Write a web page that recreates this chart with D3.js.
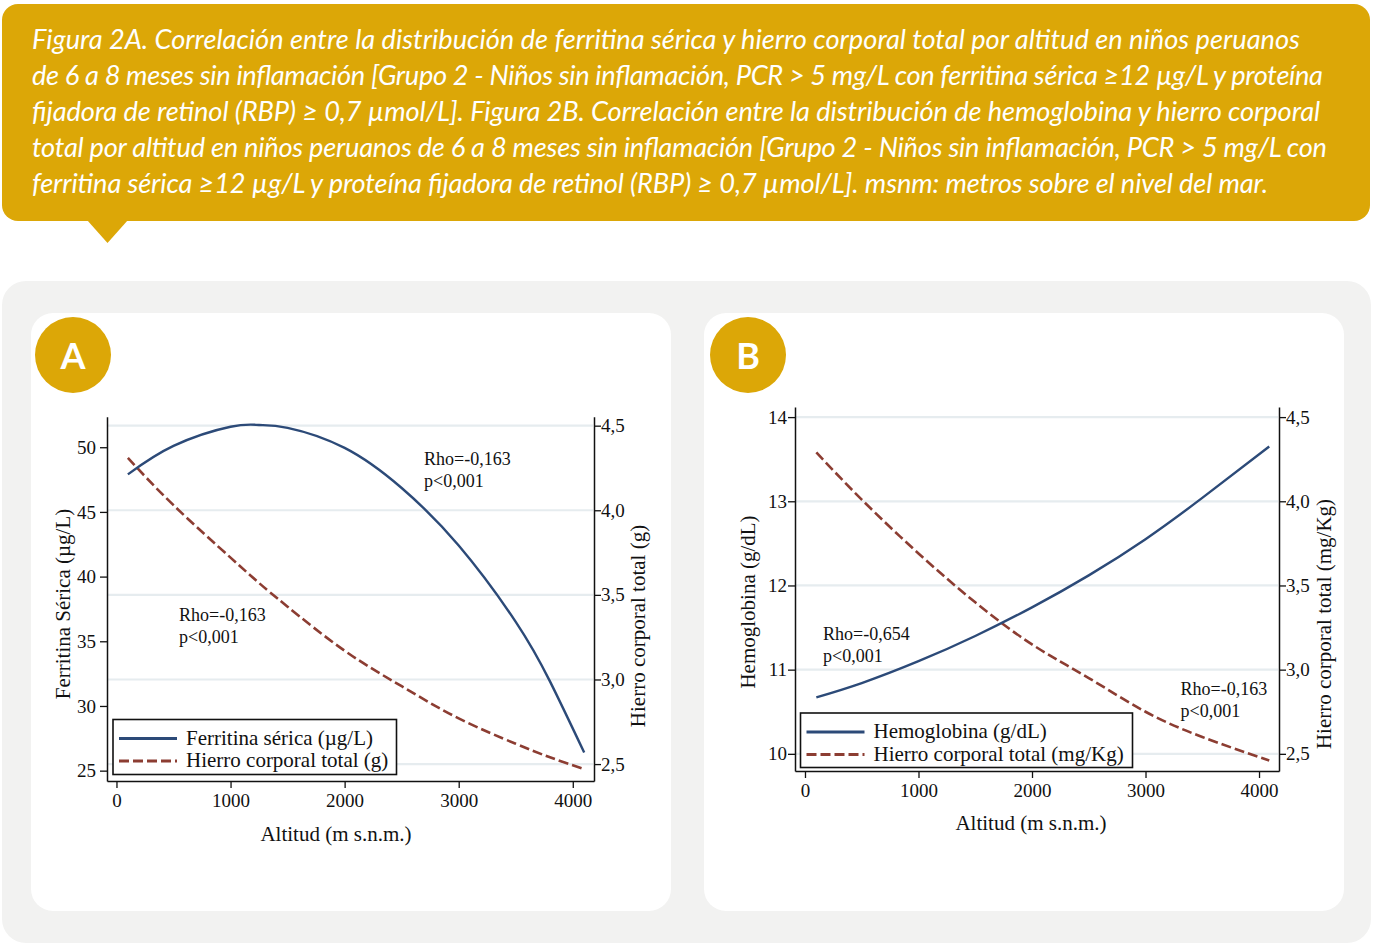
<!DOCTYPE html>
<html><head><meta charset="utf-8">
<script src="https://cdn.jsdelivr.net/npm/d3@7"></script>
<style>
html,body{margin:0;padding:0;background:#fff;}
svg{display:block;}
</style></head>
<body>
<svg id="c" width="1380" height="952"></svg>
<script>
// ---------------- DATA ----------------
const captionLines = [
  "Figura 2A. Correlación entre la distribución de ferritina sérica y hierro corporal total por altitud en niños peruanos",
  "de 6 a 8 meses sin inflamación [Grupo 2 - Niños sin inflamación, PCR > 5 mg/L con ferritina sérica ≥12 µg/L y proteína",
  "fijadora de retinol (RBP) ≥ 0,7 µmol/L]. Figura 2B. Correlación entre la distribución de hemoglobina y hierro corporal",
  "total por altitud en niños peruanos de 6 a 8 meses sin inflamación [Grupo 2 - Niños sin inflamación, PCR > 5 mg/L con",
  "ferritina sérica ≥12 µg/L y proteína fijadora de retinol (RBP) ≥ 0,7 µmol/L]. msnm: metros sobre el nivel del mar."
];
const xTicks = [0, 1000, 2000, 3000, 4000];
// Panel A
const altitudA = [100, 500, 1000, 1250, 1500, 2000, 2500, 3000, 3500, 3800, 4100];
const ferritinaA = [47.9, 50.1, 51.58, 51.72, 51.5, 49.95, 46.85, 42.4, 36.5, 31.9, 26.4];
const hierroA = [4.31, 4.03, 3.72, 3.57, 3.43, 3.17, 2.96, 2.77, 2.62, 2.54, 2.47];
const leftTicksA = [25, 30, 35, 40, 45, 50];
const rightTicksA = [2.5, 3.0, 3.5, 4.0, 4.5];
// Panel B
const altitudB = [100, 500, 1000, 1500, 2000, 2500, 3000, 3500, 4090];
const hemoglobinaB = [10.67, 10.84, 11.10, 11.40, 11.74, 12.12, 12.55, 13.04, 13.65];
const hierroB = [4.29, 4.01, 3.69, 3.40, 3.15, 2.95, 2.75, 2.60, 2.46];
const leftTicksB = [10, 11, 12, 13, 14];
const rightTicksB = [2.5, 3.0, 3.5, 4.0, 4.5];

// ---------------- STYLE ----------------
const GOLD = "#dca707";
const NAVY = "#2c4a78";
const BROWN = "#8c3d32";
const GRID = "#e6ecef";
const SERIF = "'Liberation Serif', 'Times New Roman', serif";
const svg = d3.select("#c");
const comma = v => d3.format(".1f")(v).replace(".", ",");
const captionEnds = [1300, 1323, 1320, 1327, 1268];

// ---------------- HEADER ----------------
svg.append("rect").attr("x", 2).attr("y", 4).attr("width", 1368).attr("height", 217)
  .attr("rx", 16).attr("fill", GOLD);
svg.append("path").attr("d", "M87,220 L128,220 L107.5,243 Z").attr("fill", GOLD);
const cap = svg.append("g").attr("font-family", "Lato, 'Open Sans', sans-serif")
  .attr("font-style", "italic").attr("fill", "#fff");
const capTexts = cap.selectAll("text").data(captionLines).join("text")
  .attr("x", 32).attr("y", (d, i) => 49 + i * 36)
  .attr("font-size", 24).text(d => d);
const w0 = capTexts.nodes()[0].getComputedTextLength();
const fs = 24 * 1268 / w0;
capTexts.attr("font-size", fs)
  .attr("textLength", (d, i) => captionEnds[i] - 32)
  .attr("lengthAdjust", "spacing");

// ---------------- PANELS BACKGROUND ----------------
svg.append("rect").attr("x", 2).attr("y", 281).attr("width", 1369).attr("height", 662)
  .attr("rx", 24).attr("fill", "#f2f2f1");
svg.append("rect").attr("x", 31).attr("y", 313).attr("width", 640).attr("height", 598)
  .attr("rx", 22).attr("fill", "#fff");
svg.append("rect").attr("x", 704).attr("y", 313).attr("width", 640).attr("height", 598)
  .attr("rx", 22).attr("fill", "#fff");
[[73, "A"], [748, "B"]].forEach(([cx, lab]) => {
  svg.append("circle").attr("cx", cx).attr("cy", 355).attr("r", 38).attr("fill", GOLD);
  svg.append("text").attr("x", cx).attr("y", 369).attr("text-anchor", "middle")
    .attr("font-family", "Lato, sans-serif").attr("font-weight", 700)
    .attr("font-size", 36).attr("fill", "#fff").text(lab);
});

// ---------------- PANEL DRAW FUNCTION ----------------
function panel(cfg) {
  const g = svg.append("g").attr("font-family", SERIF);
  const x = d3.scaleLinear().domain(cfg.xDomain).range([cfg.left, cfg.right]);
  const yL = d3.scaleLinear().domain(cfg.yLDomain).range([cfg.bottom, cfg.top]);
  const yR = d3.scaleLinear().domain(cfg.yRDomain).range([cfg.bottom, cfg.top]);
  // grid
  g.append("g").selectAll("line").data(cfg.rightTicks).join("line")
    .attr("x1", cfg.left + 1).attr("x2", cfg.right - 1)
    .attr("y1", d => yR(d)).attr("y2", d => yR(d))
    .attr("stroke", GRID).attr("stroke-width", 2.2);
  // lines
  const lineL = d3.line().x((d, i) => x(cfg.alt[i])).y(d => yL(d)).curve(d3.curveNatural);
  const lineR = d3.line().x((d, i) => x(cfg.alt[i])).y(d => yR(d)).curve(d3.curveNatural);
  g.append("path").attr("d", lineR(cfg.rightVals)).attr("fill", "none")
    .attr("stroke", BROWN).attr("stroke-width", 2.6).attr("stroke-dasharray", "10,4");
  g.append("path").attr("d", lineL(cfg.leftVals)).attr("fill", "none")
    .attr("stroke", NAVY).attr("stroke-width", 2.4);
  // axes
  const styleAxis = sel => {
    sel.select(".domain").attr("stroke", "#111").attr("stroke-width", 1.5);
    sel.selectAll(".tick line").attr("stroke", "#111").attr("stroke-width", 1.3);
    sel.selectAll(".tick text").attr("font-family", SERIF).attr("font-size", 19).attr("fill", "#111");
  };
  g.append("g").attr("transform", `translate(0,${cfg.bottom})`)
    .call(d3.axisBottom(x).tickValues(xTicks).tickSize(7).tickPadding(6).tickSizeOuter(0).tickFormat(d3.format("d")))
    .call(styleAxis);
  g.append("g").attr("transform", `translate(${cfg.left},0)`)
    .call(d3.axisLeft(yL).tickValues(cfg.leftTicks).tickSize(7).tickPadding(cfg.lPad).tickSizeOuter(0).tickFormat(d3.format("d")))
    .call(styleAxis);
  g.append("g").attr("transform", `translate(${cfg.right},0)`)
    .call(d3.axisRight(yR).tickValues(cfg.rightTicks).tickSize(7).tickPadding(0).tickSizeOuter(0).tickFormat(comma))
    .call(styleAxis);
  // axis titles
  g.append("text").attr("x", cfg.xTitleX).attr("y", cfg.xTitleY)
    .attr("text-anchor", "middle").attr("font-size", 21).attr("fill", "#111").text("Altitud (m s.n.m.)");
  g.append("text").attr("transform", `translate(${cfg.lTitleX},${cfg.lTitleY}) rotate(-90)`)
    .attr("text-anchor", "middle").attr("font-size", 21).attr("fill", "#111").text(cfg.lTitle);
  g.append("text").attr("transform", `translate(${cfg.rTitleX},${cfg.rTitleY}) rotate(-90)`)
    .attr("text-anchor", "middle").attr("font-size", 21).attr("fill", "#111").text(cfg.rTitle);
  // annotations
  cfg.notes.forEach(n => {
    g.append("text").attr("x", n.x).attr("y", n.y).attr("font-size", 18).attr("fill", "#111").text(n.rho);
    g.append("text").attr("x", n.x).attr("y", n.y + 22).attr("font-size", 18).attr("fill", "#111").text("p<0,001");
  });
  // legend
  const L = cfg.legend;
  g.append("rect").attr("x", L.x).attr("y", L.y).attr("width", L.w).attr("height", L.h)
    .attr("fill", "#fff").attr("stroke", "#111").attr("stroke-width", 1.6);
  g.append("line").attr("x1", L.x + 6).attr("x2", L.x + 64).attr("y1", L.y + 19).attr("y2", L.y + 19)
    .attr("stroke", NAVY).attr("stroke-width", 3);
  g.append("line").attr("x1", L.x + 6).attr("x2", L.x + 64).attr("y1", L.y + 41.5).attr("y2", L.y + 41.5)
    .attr("stroke", BROWN).attr("stroke-width", 3).attr("stroke-dasharray", "10,4");
  g.append("text").attr("x", L.x + 73).attr("y", L.y + 25).attr("font-size", 21).attr("fill", "#111").text(L.t1);
  g.append("text").attr("x", L.x + 73).attr("y", L.y + 47.5).attr("font-size", 21).attr("fill", "#111").text(L.t2);
}

panel({
  left: 107, right: 594, top: 416.7, bottom: 781,
  xDomain: [-83, 4186], yLDomain: [24.2, 52.36], yRDomain: [2.4, 4.553],
  alt: altitudA, leftVals: ferritinaA, rightVals: hierroA,
  leftTicks: leftTicksA, rightTicks: rightTicksA, lPad: 4,
  xTitleX: 336, xTitleY: 841, lTitleX: 70, lTitleY: 604, rTitleX: 645, rTitleY: 626,
  lTitle: "Ferritina Sérica (µg/L)", rTitle: "Hierro corporal total (g)",
  notes: [{x: 424, y: 465, rho: "Rho=-0,163"}, {x: 179, y: 620.5, rho: "Rho=-0,163"}],
  legend: {x: 113, y: 719.5, w: 283.5, h: 55, t1: "Ferritina sérica (µg/L)", t2: "Hierro corporal total (g)"}
});

panel({
  left: 795, right: 1279, top: 407, bottom: 771,
  xDomain: [-88, 4176], yLDomain: [9.796, 14.12], yRDomain: [2.398, 4.56],
  alt: altitudB, leftVals: hemoglobinaB, rightVals: hierroB,
  leftTicks: leftTicksB, rightTicks: rightTicksB, lPad: 1,
  xTitleX: 1031, xTitleY: 830, lTitleX: 755, lTitleY: 602, rTitleX: 1331, rTitleY: 624,
  lTitle: "Hemoglobina (g/dL)", rTitle: "Hierro corporal total (mg/Kg)",
  notes: [{x: 823, y: 639.5, rho: "Rho=-0,654"}, {x: 1180.5, y: 694.5, rho: "Rho=-0,163"}],
  legend: {x: 800.5, y: 713, w: 332, h: 54.5, t1: "Hemoglobina (g/dL)", t2: "Hierro corporal total (mg/Kg)"}
});
</script>
</body></html>
